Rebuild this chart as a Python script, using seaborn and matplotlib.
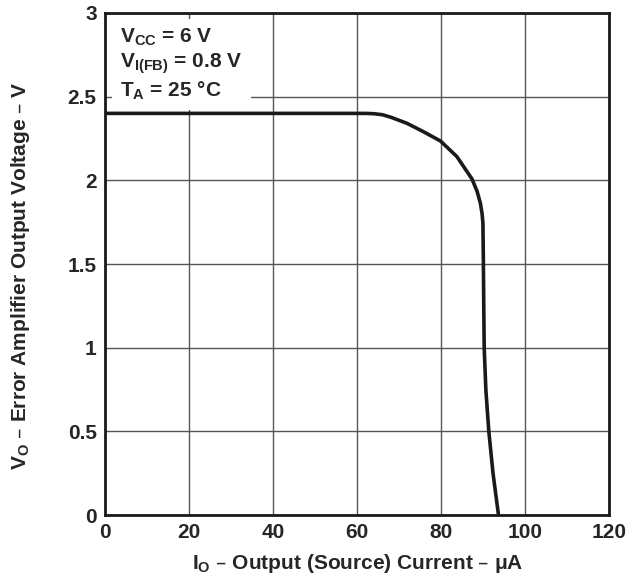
import matplotlib
matplotlib.use("Agg")
import matplotlib.pyplot as plt
import seaborn as sns
import pandas as pd

# Data
current_uA = [0, 40, 60, 62, 64, 66, 68, 71.8, 75.8, 79.8, 83.7, 87.3, 88.5, 89.3, 89.7, 89.9, 90.0, 90.1, 90.2, 90.6, 91.3, 92.3, 93.6]
voltage_V = [2.40, 2.40, 2.40, 2.40, 2.398, 2.392, 2.377, 2.341, 2.29, 2.235, 2.142, 2.008, 1.935, 1.863, 1.80, 1.744, 1.524, 1.245, 1.0, 0.747, 0.5, 0.25, 0.0]

x_ticks = [0, 20, 40, 60, 80, 100, 120]
y_ticks = [0, 0.5, 1, 1.5, 2, 2.5, 3]
y_tick_labels = ["0", "0.5", "1", "1.5", "2", "2.5", "3"]

sns.set_theme(style="white")
plt.rcParams["font.family"] = ["Liberation Sans", "DejaVu Sans"]
plt.rcParams["font.weight"] = "bold"
plt.rcParams["mathtext.default"] = "regular"

df = pd.DataFrame({"I": current_uA, "V": voltage_V})

fig = plt.figure(figsize=(6.3, 5.82), dpi=100)
ax = fig.add_axes([0.1667, 0.115, 0.8007, 0.8627])

sns.lineplot(data=df, x="I", y="V", ax=ax, color="#1a1a1a", linewidth=2.6, sort=False, zorder=3)

ax.set_xlim(0, 120)
ax.set_ylim(0, 3)
ax.set_xticks(x_ticks)
ax.set_yticks(y_ticks)
ax.set_yticklabels(y_tick_labels)
ax.grid(True, color="#555555", linewidth=1.0)
ax.tick_params(axis="x", length=0, labelsize=15, pad=6)
ax.tick_params(axis="y", length=0, labelsize=15, pad=6)
for lab in ax.get_xticklabels() + ax.get_yticklabels():
    lab.set_fontweight("bold")
for s in ax.spines.values():
    s.set_color("#1a1a1a")
    s.set_linewidth(2)

ax.set_xlabel(r"$\mathregular{I_O}$ – Output (Source) Current – μA", fontsize=15, fontweight="bold", labelpad=7)
ax.set_ylabel(r"$\mathregular{V_O}$ – Error Amplifier Output Voltage – V", fontsize=15, fontweight="bold")
ax.yaxis.set_label_coords(-0.145, 0.476)

ax.text(0.03, 0.972,
        "$\\mathregular{V_{CC}}$ = 6 V\n$\\mathregular{V_{I(FB)}}$ = 0.8 V\n$\\mathregular{T_A}$ = 25 °C",
        transform=ax.transAxes, ha="left", va="top", fontsize=15, fontweight="bold",
        linespacing=1.2,
        bbox=dict(facecolor="white", edgecolor="none", pad=6), zorder=4)

fig.savefig("out.png", dpi=100)
